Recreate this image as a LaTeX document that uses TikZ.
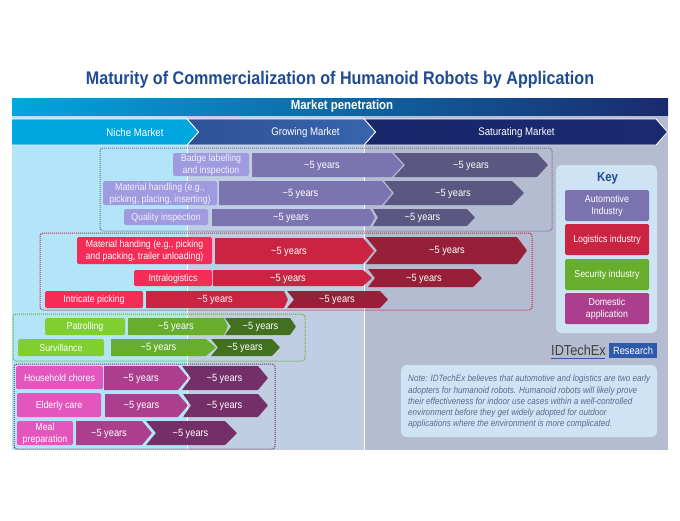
\documentclass[tikz,border=0pt]{standalone}
\usepackage{fontspec}
\setmainfont[FakeStretch=0.88]{Liberation Sans}
\definecolor{titleblue}{HTML}{1F4B92}
\definecolor{autoL}{HTML}{A09BE0}\definecolor{autoA}{HTML}{7B74B1}\definecolor{autoB}{HTML}{5A5780}
\definecolor{redL}{HTML}{F52C55}\definecolor{redA}{HTML}{CB2442}\definecolor{redB}{HTML}{971F38}
\definecolor{grnL}{HTML}{7FD02E}\definecolor{grnA}{HTML}{66AE2C}\definecolor{grnB}{HTML}{43701F}
\definecolor{domL}{HTML}{E256BE}\definecolor{domA}{HTML}{AC3F8D}\definecolor{domB}{HTML}{742F68}
\definecolor{panelA}{HTML}{B2E5F8}\definecolor{panelB}{HTML}{C0CEE3}\definecolor{panelC}{HTML}{B5BBD0}
\definecolor{keybg}{HTML}{CEE4F5}\definecolor{notetxt}{HTML}{5A6A8C}
\definecolor{barL}{HTML}{00A6E0}\definecolor{barM}{HTML}{2A5CA6}\definecolor{barR}{HTML}{1A2A6C}
\definecolor{growL}{HTML}{2F5196}\definecolor{growR}{HTML}{3765AE}\definecolor{satL}{HTML}{18266A}\definecolor{satR}{HTML}{1B2A70}
\definecolor{logoblue}{HTML}{2E5AAC}
\tikzset{
  lab/.style={font=\fontsize{10}{12}\selectfont,text=white,align=center,inner sep=0pt,yshift=-0.6pt},
  yrs/.style={font=\fontsize{10.5}{12}\selectfont,text=white,inner sep=0pt,yshift=-0.8pt},
  grp/.style={dash pattern=on 1pt off 1pt,line width=1pt,rounded corners=3pt},
  mkt/.style={font=\fontsize{11}{13}\selectfont,text=white,inner sep=0pt,yshift=-0.6pt},
}
% name, x0, notch, xe, tip, y0, y1, colour
\newcommand\chev[8]{%
  \fill[#8,rounded corners=0.6pt] (#2,#6) -- (#4,#6) -- (#5,{(#6+#7)/2}) -- (#4,#7) -- (#2,#7) -- (#3,{(#6+#7)/2}) -- cycle;
  \node[yrs] (#1) at ({(#3+#4)/2},{(#6+#7)/2}) {\textasciitilde5 years};}
% name, x0, x1, y0, y1, colour, text
\newcommand\labbox[7]{%
  \fill[#6,rounded corners=1.5pt] (#2,#4) rectangle (#3,#5);
  \node[lab] (#1) at ({(#2+#3)/2},{(#4+#5)/2}) {#7};}
\begin{document}
\begin{tikzpicture}[x=1pt,y=-1pt]
\useasboundingbox (0,0) rectangle (680,520);
\fill[white] (0,0) rectangle (680,520);
\node[font=\fontsize{18.3}{22}\selectfont\bfseries,text=titleblue,inner sep=0pt] (title) at (340,80) {Maturity of Commercialization of Humanoid Robots by Application};
% panels
\fill[panelA] (12,115) rectangle (187,450);
\fill[panelB] (187,115) rectangle (364,450);
\fill[panelC] (364,115) rectangle (668,450);
\fill[white] (186.5,145) rectangle (187.5,450);
\fill[white] (364,145) rectangle (365,450);
% header
\shade[left color=barL,middle color=barM,right color=barR] (12,98) rectangle (668,115);
\node[font=\fontsize{13}{15}\selectfont\bfseries,text=white,inner sep=0pt] (pen) at (342,106.5) {Market penetration};
\shade[left color=satL,right color=satR] (364,119) -- (656,119) -- (667.5,132) -- (656,145) -- (364,145) -- (375.5,132) -- cycle;
\draw[white,line width=0.8pt] (364,119) -- (656,119) -- (667.5,132) -- (656,145) -- (364,145) -- (375.5,132) -- cycle;
\shade[left color=growL,right color=growR] (187,119) -- (364,119) -- (375.5,132) -- (364,145) -- (187,145) -- (198.5,132) -- cycle;
\draw[white,line width=0.8pt] (187,119) -- (364,119) -- (375.5,132) -- (364,145) -- (187,145) -- (198.5,132) -- cycle;
\fill[barL] (12,119) -- (187,119) -- (198.5,132) -- (187,145) -- (12,145) -- cycle;
\draw[white,line width=0.8pt] (12,119) -- (187,119) -- (198.5,132) -- (187,145) -- (12,145);
\node[mkt] (niche) at (135,132) {Niche Market};
\node[mkt] (grow) at (305.5,132) {Growing Market};
\node[mkt] (sat) at (516.5,132) {Saturating Market};
% groups
\draw[grp,draw=autoB!85] (100,148) rectangle (552,231);
\draw[grp,draw=redA] (40,233) rectangle (532,310);
\draw[grp,draw=grnA] (13,314) rectangle (305,361);
\draw[grp,draw=domB] (14,364) rectangle (275,449);
% automotive
\labbox{a1}{173}{249}{153}{176}{autoL}{\color{white!85!autoL}Badge labelling\\\color{white!85!autoL}and inspection}
\chev{a1a}{252}{252}{392}{403}{153}{177}{autoA}
\chev{a1b}{394}{405}{537}{548}{153}{177}{autoB}
\labbox{a2}{103}{217}{181}{205}{autoL}{\color{white!85!autoL}Material handling (e.g.,\\\color{white!85!autoL}picking, placing, inserting)}
\chev{a2a}{219}{219}{382}{392}{181}{205}{autoA}
\chev{a2b}{384}{394}{512}{524}{181}{205}{autoB}
\labbox{a3}{124}{208}{209}{225}{autoL}{\color{white!85!autoL}Quality inspection}
\chev{a3a}{212}{212}{370}{375}{209}{226}{autoA}
\chev{a3b}{373}{378}{467}{475}{209}{226}{autoB}
% logistics
\labbox{r1}{77}{212}{237}{264}{redL}{Material handing (e.g., picking\\and packing, trailer unloading)}
\chev{r1a}{215}{215}{363}{374}{238}{264}{redA}
\chev{r1b}{366}{377}{517}{527}{237}{264}{redB}
\labbox{r2}{134}{212}{270}{286}{redL}{Intralogistics}
\chev{r2a}{213}{213}{363}{372}{270}{286}{redA}
\chev{r2b}{368}{375}{473}{482}{269}{287}{redB}
\labbox{r3}{45}{143}{291}{308}{redL}{Intricate picking}
\chev{r3a}{146}{146}{284}{288}{291}{308}{redA}
\chev{r3b}{287}{294}{380}{388}{291}{308}{redB}
% security
\labbox{g1}{45}{125}{318}{335}{grnL}{Patrolling}
\chev{g1a}{128}{128}{224}{228}{318}{335}{grnA}
\chev{g1b}{225}{231}{290}{296}{318}{335}{grnB}
\labbox{g2}{18}{104}{339}{356}{grnL}{Survillance}
\chev{g2a}{111}{111}{206}{216}{339}{356}{grnA}
\chev{g2b}{211}{218}{272}{280}{339}{356}{grnB}
% domestic
\labbox{d1}{16}{103}{366}{389}{domL}{Household chores}
\chev{d1a}{104}{104}{178}{188}{366}{390}{domA}
\chev{d1b}{182}{191}{258}{268}{366}{390}{domB}
\labbox{d2}{17}{101}{393}{417}{domL}{Elderly care}
\chev{d2a}{105}{105}{178}{188}{394}{417}{domA}
\chev{d2b}{183}{191}{258}{268}{394}{417}{domB}
\labbox{d3}{17}{73}{421}{445}{domL}{Meal\\preparation}
\chev{d3a}{76}{76}{142}{152}{421}{445}{domA}
\chev{d3b}{146}{156}{225}{237}{421}{445}{domB}
% key
\fill[keybg,rounded corners=5pt] (556,165) rectangle (657,333);
\node[font=\fontsize{13}{15}\selectfont\bfseries,text=titleblue,inner sep=0pt] (key) at (607.5,178) {Key};
\labbox{k1}{565}{649}{190}{221}{autoA}{Automotive\\Industry}
\labbox{k2}{565}{649}{224}{255}{redA}{Logistics industry}
\labbox{k3}{565}{649}{259}{290}{grnA}{Security industry}
\labbox{k4}{565}{649}{293}{324}{domA}{Domestic\\application}
% logo
\node[font=\fontsize{14.5}{18}\selectfont,text=black!75,inner sep=0pt,anchor=west] (idt) at (551,350) {IDTechEx};
\coordinate (ua) at (551,358);\coordinate (ub) at (605,358);
\draw[logoblue,line width=0.6pt] (ua) -- (ub);
\fill[logoblue] (609,343) rectangle (657,358);
\node[font=\fontsize{10.6}{14}\selectfont,text=white,inner sep=0pt] (res) at (633,350.5) {Research};
% note
\fill[keybg,rounded corners=6pt] (401,365) rectangle (657,437);
\node[font=\fontsize{9.2}{11.25}\selectfont\itshape,text=notetxt,align=left,inner sep=0pt,anchor=north west] (note) at (408,375) {Note: IDTechEx believes that automotive and logistics are two early\\adopters for humanoid robots. Humanoid robots will likely prove\\their effectiveness for indoor use cases within a well-controlled\\environment before they get widely adopted for outdoor\\applications where the environment is more complicated.};
\end{tikzpicture}
\end{document}
